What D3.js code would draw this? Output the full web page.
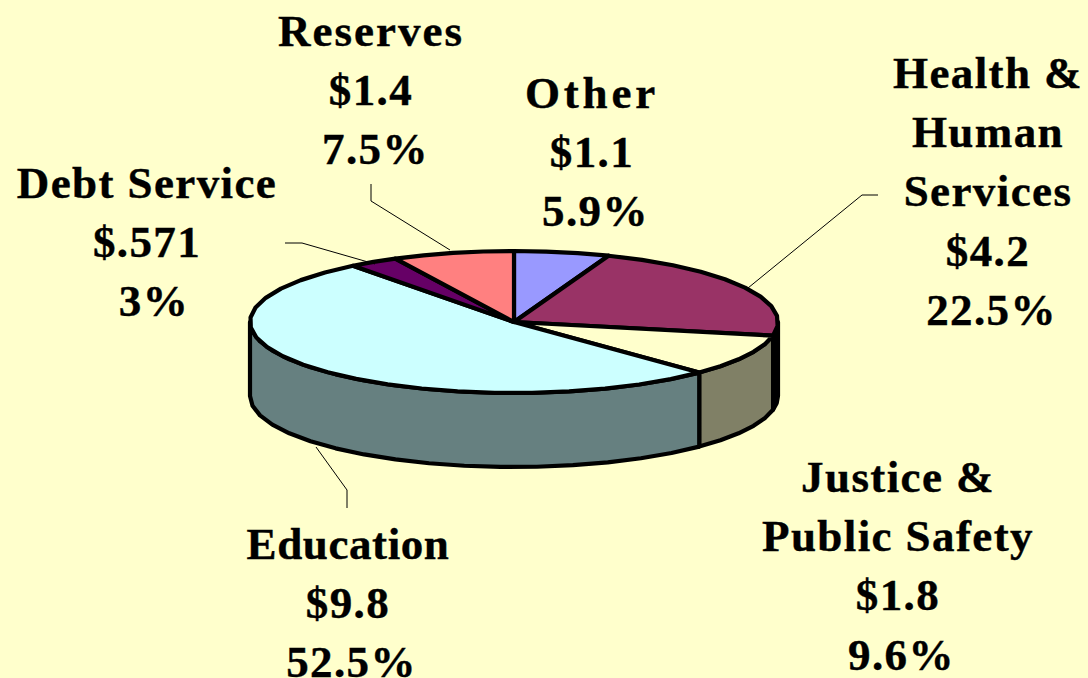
<!DOCTYPE html>
<html><head><meta charset="utf-8">
<script src="https://cdn.jsdelivr.net/npm/d3@7"></script>
<style>html,body{margin:0;padding:0;background:#FFFFCC;overflow:hidden}svg{display:block}</style>
</head><body><svg id="c" width="1088" height="678"></svg>
<script>
const categories = ["Other","Health & Human Services","Justice & Public Safety","Education","Debt Service","Reserves"];
const amounts = [1.1,4.2,1.8,9.8,0.571,1.4];
const amountLabels = ["$1.1","$4.2","$1.8","$9.8","$.571","$1.4"];
const percentLabels = ["5.9%","22.5%","9.6%","52.5%","3%","7.5%"];
const topColors = ["#9999FF","#993366","#FFFFCC","#CCFFFF","#660066","#FF8080"];
const sideColors = ["#666699","#000000","#808066","#668080","#330033","#804040"];

const layout = {cx:514, cy:322, rx:264, ry:71, depth:74, step:Math.PI/22};
const labelLayout = [
 {x:592, y:108, ls:3.8, pdx:3.5, lines:["Other"]},
 {x:988, y:88,  ls:1.4, pdx:3.5, lines:["Health &","Human","Services"]},
 {x:898, y:492, ls:1.4, pdx:3.5, lines:["Justice &","Public Safety"]},
 {x:348, y:559, ls:0.6, pdx:3.5, lines:["Education"]},
 {x:147, y:198, ls:1.4, pdx:7,   lines:["Debt Service"]},
 {x:371, y:46,  ls:2,   pdx:4.5, lines:["Reserves"]}
];
const leaders = [
 [[878,195],[862,195],[748,288]],
 [[347,508],[347,490],[316,447]],
 [[285,243],[302,243],[375,264]],
 [[371,184],[371,201],[450,250]]
];

const svg = d3.select("#c");
const pie = d3.pie().sort(null).value(d=>d);
const arcs = pie(amounts);
const px = a => layout.cx + layout.rx*Math.sin(a);
const py = (a,dz=0) => layout.cy - layout.ry*Math.cos(a) + dz;
const line = d3.line().curve(d3.curveLinear);
const sample = (a0,a1) => {
  const n = Math.max(1, Math.ceil((a1-a0)/layout.step));
  return d3.range(n+1).map(i => a0+(a1-a0)*i/n);
};
const sw = 4.2;

// walls of the front half of the drum
const g = svg.append("g");
arcs.forEach((d,i)=>{
  const a0 = Math.max(d.startAngle, Math.PI/2), a1 = Math.min(d.endAngle, Math.PI*1.5);
  if (a1 <= a0) return;
  const as = sample(a0,a1);
  const pts = as.map(a=>[px(a),py(a)]).concat(as.slice().reverse().map(a=>[px(a),py(a,layout.depth)]));
  g.append("path").attr("d",line(pts)+"Z").attr("fill",sideColors[i])
   .attr("stroke","#000").attr("stroke-width",sw).attr("stroke-linejoin","round");
});
// top face
arcs.forEach((d,i)=>{
  const pts = [[layout.cx,layout.cy]].concat(sample(d.startAngle,d.endAngle).map(a=>[px(a),py(a)]));
  g.append("path").attr("d",line(pts)+"Z").attr("fill",topColors[i])
   .attr("stroke","#000").attr("stroke-width",sw).attr("stroke-linejoin","round");
});
// leader lines
svg.append("g").selectAll("path").data(leaders).join("path")
  .attr("d",d=>line(d)).attr("fill","none").attr("stroke","#000").attr("stroke-width",1);
// labels
const lh = 59.2;
const tg = svg.append("g").attr("font-family","'Liberation Serif',serif").attr("font-weight","bold")
  .attr("font-size",45).attr("text-anchor","middle").attr("fill","#000")
  .attr("stroke","#000").attr("stroke-width",0.4);
labelLayout.forEach((l,i)=>{
  l.lines.forEach((t,j)=>tg.append("text").attr("x",l.x).attr("y",l.y+j*lh).attr("letter-spacing",l.ls).text(t));
  const n = l.lines.length;
  tg.append("text").attr("x",l.x).attr("y",l.y+n*lh).attr("letter-spacing",1.4).text(amountLabels[i]);
  tg.append("text").attr("x",l.x+l.pdx).attr("y",l.y+(n+1)*lh).attr("letter-spacing",1.4).text(percentLabels[i]);
});
</script></body></html>
